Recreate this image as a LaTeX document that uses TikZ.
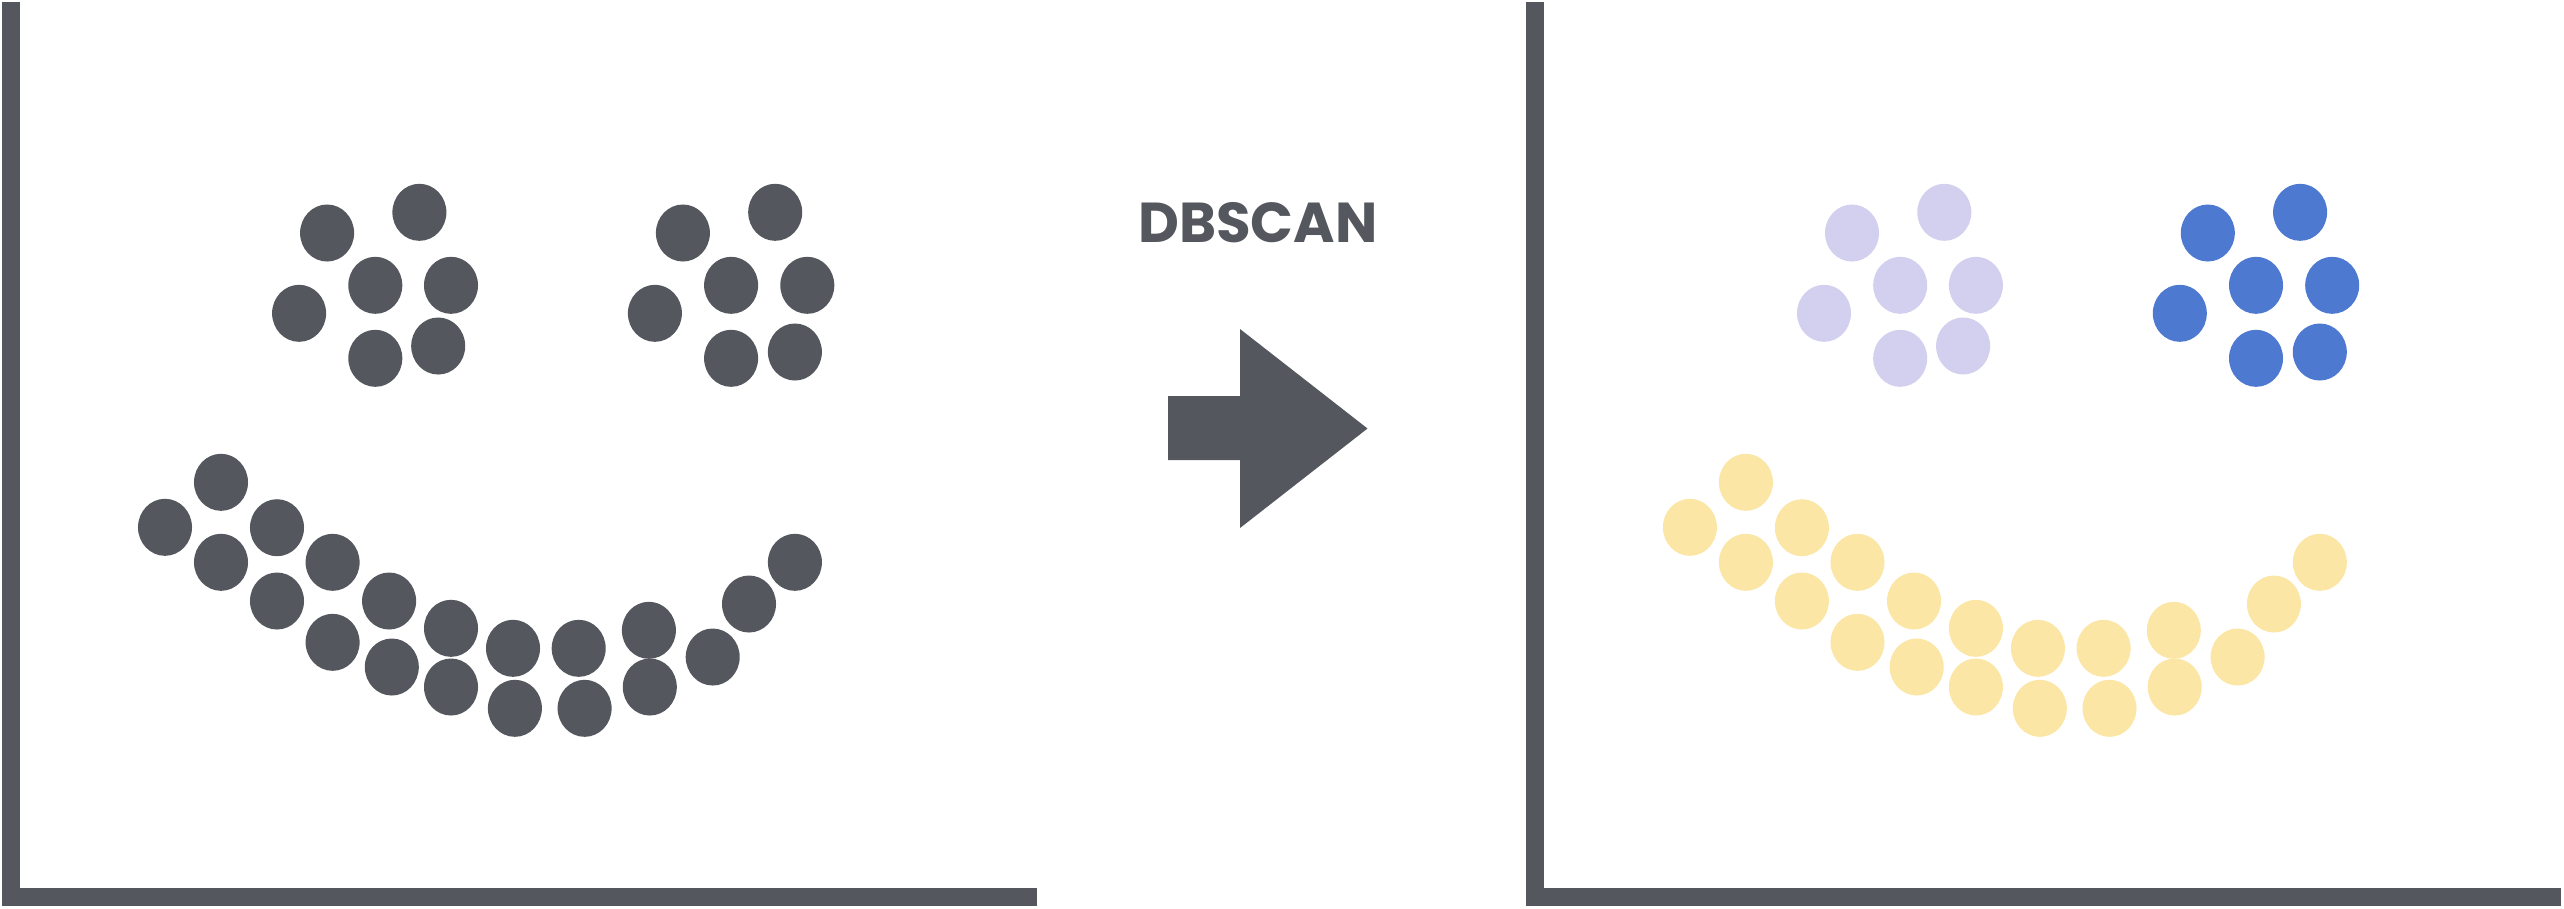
\documentclass[tikz,border=0pt]{standalone}
\usepackage{fontspec}
\newfontfamily\labelfont{Poppins}
\definecolor{axisgray}{HTML}{54585E}
\definecolor{lav}{HTML}{D2D0EE}
\definecolor{blueclu}{HTML}{4D79D1}
\definecolor{yel}{HTML}{FBE6A6}
\tikzset{
  axisline/.style={draw=axisgray, line width=0.18cm, line cap=butt, line join=miter},
  arrowshape/.style={fill=axisgray},
}
\newcommand{\upperA}{327.1/233, 419.4/212.3, 375.3/285.3, 451.0/285.3, 299.1/313.3, 375.3/358.3, 438.2/346}
\newcommand{\upperB}{682.9/233, 775.2/212.3, 731.1/285.3, 807.3/285.3, 654.9/313.3, 731.1/358.3, 794.9/352}
\newcommand{\smilepts}{221.0/482.3, 165.0/527.3, 277.0/527.7, 221.0/562.3, 332.6/562.3, 277.0/601, 389.1/601, 332.6/642.3, 451.0/628.3, 391.8/667, 513.0/648.3, 451.0/687, 578.7/648.3, 514.9/708.3, 648.9/630.3, 584.6/708.3, 649.8/687, 712.7/657, 749.0/604, 794.9/562.3}
\begin{document}
\begin{tikzpicture}[x=0.01cm, y=-0.01cm]
\useasboundingbox (0,0) rectangle (2564,908);
% axes
\coordinate (lt) at (11,2);
\coordinate (lc) at (11,897);
\coordinate (lr) at (1037,897);
\coordinate (rt) at (1535,2);
\coordinate (rc) at (1535,897);
\coordinate (rr) at (2561,897);
\draw[axisline] (lt) -- (lc) -- (lr);
\draw[axisline] (rt) -- (rc) -- (rr);
% left panel points
\foreach \px/\py in \upperA {\fill[axisgray] (\px,\py) ellipse (0.27cm and 0.285cm);}
\foreach \px/\py in \upperB {\fill[axisgray] (\px,\py) ellipse (0.27cm and 0.285cm);}
\foreach \px/\py in \smilepts {\fill[axisgray] (\px,\py) ellipse (0.27cm and 0.285cm);}
% right panel points
\begin{scope}[xshift=15.24cm]
\foreach \px/\py in \upperA {\fill[lav] (\px,\py) ellipse (0.27cm and 0.285cm);}
\foreach \px/\py in \upperB {\fill[blueclu] (\px,\py) ellipse (0.27cm and 0.285cm);}
\foreach \px/\py in \smilepts {\fill[yel] (\px,\py) ellipse (0.27cm and 0.285cm);}
\end{scope}
% arrow
\fill[arrowshape] (1168,396) -- (1240,396) -- (1240,329) -- (1367.5,428.5) -- (1240,528) -- (1240,460) -- (1168,460) -- cycle;
% label
\node[anchor=base, inner sep=0pt, text=axisgray, font=\labelfont\bfseries\fontsize{16}{20}\selectfont] (lbl) at (1258,242.7) {DBSCAN};
\end{tikzpicture}
\end{document}
